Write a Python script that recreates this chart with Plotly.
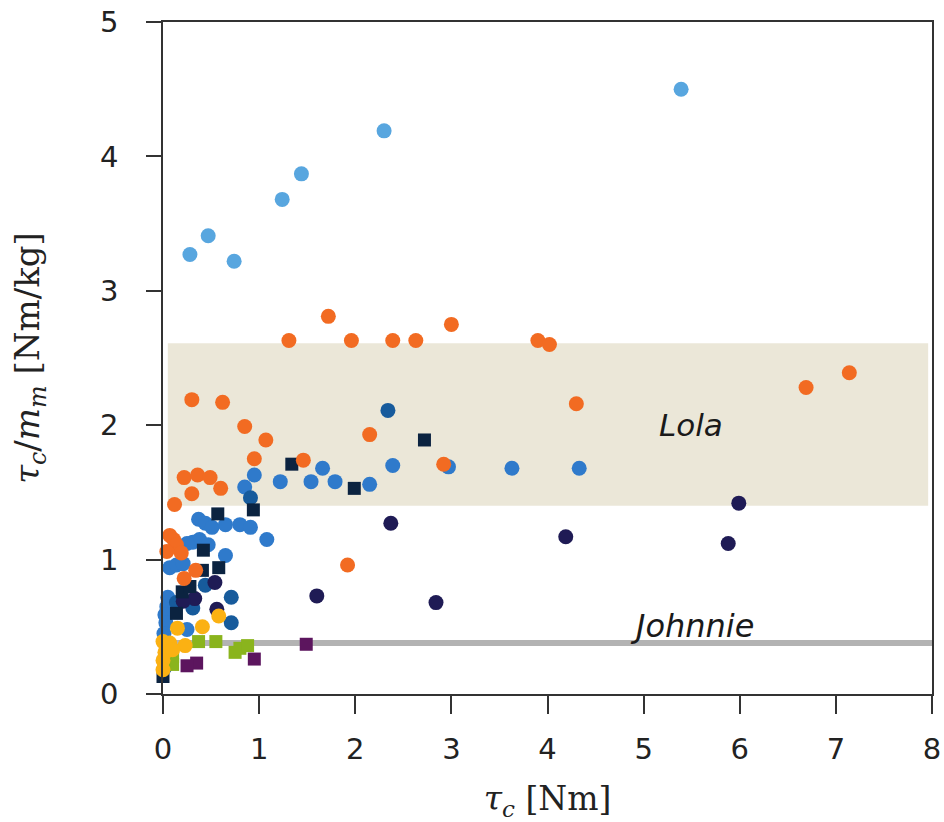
import plotly.graph_objects as go

# ---- data ----
light_blue_x = [0.28, 0.47, 0.74, 1.24, 1.44, 2.30, 5.39]
light_blue_y = [3.27, 3.41, 3.22, 3.68, 3.87, 4.19, 4.50]

orange_x = [1.31, 1.72, 1.96, 2.39, 2.63, 3.00, 3.90, 4.02, 4.30, 6.69, 7.14,
            0.30, 0.62, 0.85, 1.07, 2.15, 1.46, 0.95, 2.92,
            0.22, 0.36, 0.49, 0.30, 0.60, 0.12, 1.92,
            0.07, 0.11, 0.14, 0.04, 0.19, 0.34, 0.22]
orange_y = [2.63, 2.81, 2.63, 2.63, 2.63, 2.75, 2.63, 2.60, 2.16, 2.28, 2.39,
            2.19, 2.17, 1.99, 1.89, 1.93, 1.74, 1.75, 1.71,
            1.61, 1.63, 1.61, 1.49, 1.53, 1.41, 0.96,
            1.18, 1.15, 1.11, 1.06, 1.05, 0.92, 0.86]

blue_x = [0.95, 0.85, 1.22, 1.54, 1.66, 1.79, 2.15, 2.39, 2.97, 3.63, 4.33,
          0.37, 0.44, 0.51, 0.65, 0.80, 0.91, 1.08, 0.31, 0.38, 0.47, 0.25,
          0.65, 0.07, 0.14, 0.21, 0.05, 0.04, 0.02, 0.03, 0.25, 0.01, 0.02]
blue_y = [1.63, 1.54, 1.58, 1.58, 1.68, 1.58, 1.56, 1.70, 1.69, 1.68, 1.68,
          1.30, 1.27, 1.24, 1.26, 1.26, 1.24, 1.15, 1.13, 1.15, 1.11, 1.12,
          1.03, 0.94, 0.96, 0.97, 0.72, 0.65, 0.59, 0.53, 0.48, 0.45, 0.40]

dark_blue_x = [2.34, 0.91, 0.71, 0.71, 0.44, 0.31, 0.14, 0.02]
dark_blue_y = [2.11, 1.46, 0.72, 0.53, 0.81, 0.64, 0.68, 0.20]

navy_x = [1.60, 2.84, 2.37, 4.19, 5.88, 5.99, 0.54, 0.56, 0.33, 0.21]
navy_y = [0.73, 0.68, 1.27, 1.17, 1.12, 1.42, 0.83, 0.63, 0.71, 0.69]

navy_sq_x = [1.34, 1.99, 2.72, 0.57, 0.94, 0.42, 0.41, 0.58, 0.20, 0.28, 0.14, 0.00]
navy_sq_y = [1.71, 1.53, 1.89, 1.34, 1.37, 1.07, 0.92, 0.94, 0.76, 0.80, 0.60, 0.13]

green_sq_x = [0.37, 0.55, 0.75, 0.80, 0.88, 0.10, 0.10]
green_sq_y = [0.39, 0.39, 0.31, 0.34, 0.36, 0.28, 0.22]

purple_sq_x = [1.49, 0.95, 0.35, 0.25]
purple_sq_y = [0.37, 0.26, 0.23, 0.21]

yellow_x = [0.58, 0.41, 0.15, 0.00, 0.07, 0.23, 0.02, 0.00, 0.00, 0.10]
yellow_y = [0.58, 0.50, 0.49, 0.39, 0.38, 0.36, 0.31, 0.25, 0.18, 0.33]

lola_band = [1.40, 2.61]
lola_x = [0.05, 7.96]
johnnie_level = 0.38

x_ticks = [0, 1, 2, 3, 4, 5, 6, 7, 8]
y_ticks = [0, 1, 2, 3, 4, 5]

fig = go.Figure()

def add(x, y, color, symbol, size):
    fig.add_trace(go.Scatter(x=x, y=y, mode="markers", cliponaxis=False,
                             marker=dict(color=color, symbol=symbol, size=size,
                                         line=dict(width=0)),
                             showlegend=False))

add(blue_x, blue_y, "#2f7acb", "circle", 15)
add(dark_blue_x, dark_blue_y, "#175b9c", "circle", 15)
add(navy_x, navy_y, "#1f1b55", "circle", 15)
add(navy_sq_x, navy_sq_y, "#0b2340", "square", 13)
add(orange_x, orange_y, "#f26b22", "circle", 15)
add(light_blue_x, light_blue_y, "#58a6df", "circle", 15)
add(green_sq_x, green_sq_y, "#8ab41d", "square", 13)
add(purple_sq_x, purple_sq_y, "#5c155e", "square", 13)
add(yellow_x, yellow_y, "#fbb113", "circle", 15)

fig.add_shape(type="rect", x0=lola_x[0], x1=lola_x[1], y0=lola_band[0], y1=lola_band[1],
              fillcolor="#ebe7d8", line=dict(width=0), layer="below")
fig.add_shape(type="line", x0=0, x1=8, y0=johnnie_level, y1=johnnie_level,
              line=dict(color="#b3b3b3", width=6), layer="below")

fig.add_annotation(x=5.49, y=2.0, text="<i>Lola</i>", showarrow=False,
                   font=dict(family="DejaVu Sans", size=31, color="#1a1a1a"))
fig.add_annotation(x=5.5, y=johnnie_level, yanchor="bottom", yshift=-4, text="<i>Johnnie</i>",
                   showarrow=False, font=dict(family="DejaVu Sans", size=32, color="#1a1a1a"))

axis_common = dict(showline=True, linecolor="#333333", linewidth=1.5, mirror=True,
                   ticks="outside", tickcolor="#333333", tickwidth=1.5,
                   showgrid=False, zeroline=False, automargin=False,
                   ticklabeloverflow="allow",
                   tickfont=dict(family="DejaVu Sans", size=29, color="#222222"))

fig.update_xaxes(range=[0, 8], tickvals=x_ticks, ticklen=18, ticklabelstandoff=10,
                 title=dict(text="<i>τ</i><sub><i>c</i></sub> [Nm]",
                            font=dict(family="DejaVu Serif", size=33, color="#222222"),
                            standoff=22),
                 **axis_common)
fig.update_yaxes(range=[0, 5], tickvals=y_ticks, ticklen=15, ticklabelstandoff=22,
                 title=dict(text="<i>τ</i><sub><i>c</i></sub>/<i>m</i><sub><i>m</i></sub> [Nm/kg]",
                            font=dict(family="DejaVu Serif", size=34, color="#222222"),
                            standoff=50),
                 **axis_common)

fig.update_layout(width=944, height=822, margin=dict(l=163, r=12, t=22, b=128),
                  plot_bgcolor="white", paper_bgcolor="white")

# remove the default 8px page margin so the figure fills the window exactly
fig.write_html("out.html", config={"displayModeBar": False},
               post_script="document.body.style.margin='0';")
